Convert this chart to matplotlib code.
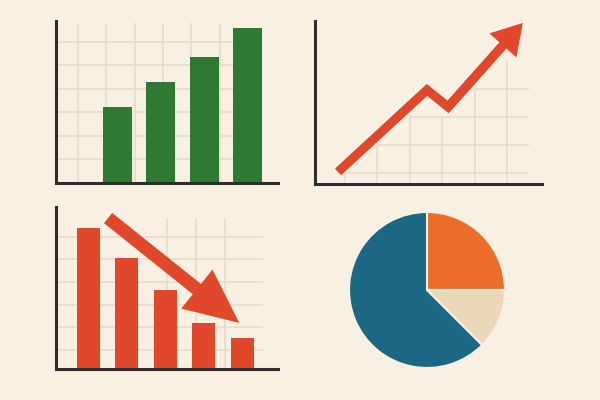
"""
Four small business charts - flat illustration style
"""

import numpy as np
import matplotlib
matplotlib.use('Agg')
import matplotlib.pyplot as plt
from matplotlib.patches import FancyArrowPatch

# Palette
BG = '#f8f0e3'
GREEN = '#2f7a33'
RED = '#e1472a'
BLUE = '#1c6884'
ORANGE = '#ec6d2a'
BEIGE = '#ecd8b7'
AXIS = '#2e2e2e'
GRID = '#e4dbcc'

# Data (arbitrary units)
green_x = [1, 2, 3, 4]
green_vals = [3.23, 4.30, 5.36, 6.60]

red_x = [1, 2, 3, 4, 5]
red_vals = [6.24, 4.91, 3.50, 2.04, 1.37]
down_x = [1.51, 4.92]          # falling arrow: tail -> tip
down_y = [6.68, 2.04]

trend_x = [0.79, 3.53, 4.18, 6.48]   # rising zig-zag line, last point is the arrow tip
trend_y = [0.43, 3.36, 2.75, 5.75]

pie_shares = [25, 12.5, 62.5]
pie_colors = [ORANGE, BEIGE, BLUE]

fig = plt.figure(figsize=(6, 4), dpi=100, facecolor=BG)


def add_panel(left, top, right, bottom):
    ax = fig.add_axes([left / 600, 1 - bottom / 400,
                       (right - left) / 600, (bottom - top) / 400])
    ax.set_facecolor('none')
    for side in ('top', 'right'):
        ax.spines[side].set_visible(False)
    for side in ('left', 'bottom'):
        ax.spines[side].set_color(AXIS)
        ax.spines[side].set_linewidth(2.2)
        ax.spines[side].set_capstyle('projecting')
        ax.spines[side].set_zorder(5)
    ax.set_xticks([])
    ax.set_yticks([])
    return ax


# --- top left: growing green bars
ax = add_panel(56, 21, 278, 183)
ax.set_xlim(-0.41, 4.69)
ax.set_ylim(0, 6.89)
ax.hlines(np.arange(1, 7), -0.41, 4.0, color=GRID, lw=1.1, zorder=1)
ax.vlines(0.1 + 0.65 * np.arange(6), 0, 6.8, color=GRID, lw=1.1, zorder=1)
ax.bar(green_x, green_vals, width=0.667, color=GREEN, zorder=3)

# --- top right: rising line with arrow
ax = add_panel(315, 21, 542, 184)
ax.set_xlim(0.083, 7.07)
ax.set_ylim(0, 5.82)
cols = np.arange(1, 7)
rows = np.arange(0.4, 4.5, 1.0)
line_at = np.interp(cols, trend_x, trend_y)
for r in rows:
    start = cols[np.argmax(line_at > r)]
    if start < cols[-1]:
        ax.hlines(r, start, 6.68, color=GRID, lw=1.1, zorder=1)
for c, h in zip(cols, line_at):
    below = rows[rows < h]
    if len(below):
        ax.vlines(c, 0, below.max(), color=GRID, lw=1.1, zorder=1)

# shaft runs under the arrow head, head drawn separately
tip = ax.transData.transform((trend_x[-1], trend_y[-1]))
base = ax.transData.transform((trend_x[-2], trend_y[-2]))
u = (tip - base) / np.hypot(*(tip - base))
shaft_end = ax.transData.inverted().transform(tip - u * 18)
ax.plot(trend_x[:-1] + [shaft_end[0]], trend_y[:-1] + [shaft_end[1]],
        color=RED, lw=6.5, solid_joinstyle='miter', solid_capstyle='butt',
        zorder=3)
ax.add_patch(FancyArrowPatch((trend_x[-2], trend_y[-2]), (trend_x[-1], trend_y[-1]),
                             arrowstyle='simple,head_length=21.6,head_width=26,tail_width=6.5',
                             mutation_scale=1, shrinkA=0, shrinkB=0,
                             color=RED, lw=0, zorder=3))

# --- bottom left: falling red bars with arrow
ax = add_panel(56, 207, 278, 369)
ax.set_xlim(0.154, 5.93)
ax.set_ylim(0, 7.17)
ax.hlines(0.85 + np.arange(6), 0.154, 5.54, color=GRID, lw=1.1, zorder=1)
ax.vlines([3.04, 3.80, 4.55], 0, 6.68, color=GRID, lw=1.1, zorder=1)
ax.bar(red_x, red_vals, width=0.6, color=RED, zorder=3)
ax.add_patch(FancyArrowPatch((down_x[0], down_y[0]), (down_x[1], down_y[1]),
                             arrowstyle='simple,head_length=39,head_width=36,tail_width=9.4',
                             mutation_scale=1, shrinkA=0, shrinkB=0,
                             color=RED, lw=0, zorder=4))

# --- bottom right: pie
r_px = 78 * 1.05
ax = fig.add_axes([(427 - r_px) / 600, 1 - (290 + r_px) / 400,
                   2 * r_px / 600, 2 * r_px / 400])
ax.set_facecolor('none')
ax.pie(pie_shares, colors=pie_colors, startangle=90, counterclock=False,
       radius=1, wedgeprops=dict(edgecolor=BG, linewidth=1.5))
ax.set_xlim(-1.05, 1.05)
ax.set_ylim(-1.05, 1.05)

fig.savefig('out.png', dpi=100, facecolor=BG)
